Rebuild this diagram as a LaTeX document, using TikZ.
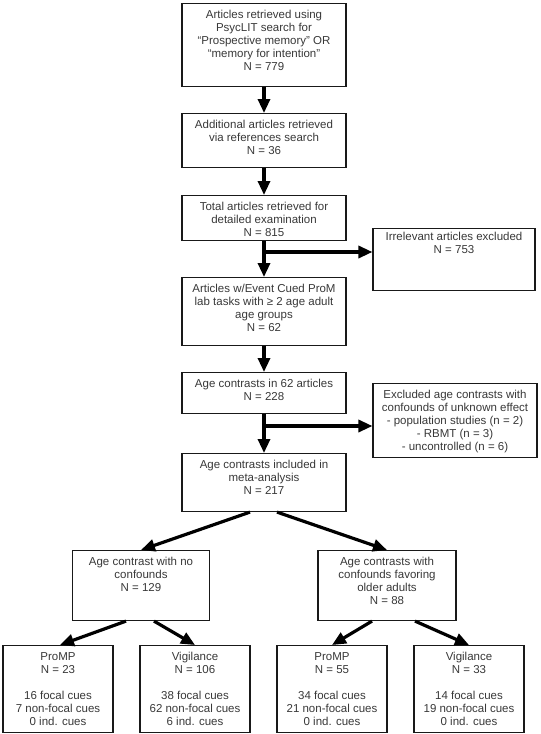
\documentclass[tikz,border=0pt]{standalone}
\usepackage{fontspec}
\setmainfont{Liberation Sans}
\usetikzlibrary{arrows.meta}
\begin{document}
\begin{tikzpicture}[x=1pt,y=-1pt,
    box/.style={draw=black!90, line width=1.1pt, align=center, anchor=north,
      inner xsep=2pt, inner ysep=0pt, text=black!78,
      font=\fontsize{11.5}{13}\selectfont},
    arr/.style={-{Triangle[length=14pt,width=12pt]}, line width=3.2pt}]
    \useasboundingbox (0,0) rectangle (541,734);
    \node[box, minimum width=164pt, text height=66.5pt, text depth=16.5pt] (A) at (264,3) {Articles retrieved using\\PsycLIT search for\\“Prospective memory” OR\\“memory for intention”\\N = 779};
    \node[box, minimum width=164pt, text height=40.5pt, text depth=13.5pt] (B) at (264,113) {Additional articles retrieved\\via references search\\N = 36};
    \node[box, minimum width=164pt, text height=40.5pt, text depth=4.5pt] (C) at (264,195) {Total articles retrieved for\\detailed examination\\N = 815};
    \node[box, minimum width=162pt, text height=24.5pt, text depth=37.5pt] (D) at (454,228) {Irrelevant articles excluded\\N = 753};
    \node[box, minimum width=164pt, text height=53.5pt, text depth=14.5pt] (E) at (264,277) {Articles w/Event Cued ProM\\lab tasks with ≥ 2 age adult\\age groups\\N = 62};
    \node[box, minimum width=164pt, text height=27.5pt, text depth=13.5pt] (F) at (264,372) {Age contrasts in 62 articles\\N = 228};
    \node[box, minimum width=164pt, text height=66.5pt, text depth=7.5pt] (G) at (455,383) {Excluded age contrasts with\\confounds of unknown effect\\- population studies (n = 2)\\- RBMT (n = 3)\\- uncontrolled (n = 6)};
    \node[box, minimum width=164pt, text height=40.5pt, text depth=17.5pt] (H) at (264,453) {Age contrasts included in\\meta-analysis\\N = 217};
    \node[box, minimum width=137pt, text height=40.5pt, text depth=29.5pt] (I) at (141,550) {Age contrast with no\\confounds\\N = 129};
    \node[box, minimum width=138pt, text height=53.5pt, text depth=16.5pt] (J) at (387,550) {Age contrasts with\\confounds favoring\\older adults\\N = 88};
    \node[box, minimum width=110pt, text height=79.5pt, text depth=7.5pt] (K) at (58,645) {ProMP\\N = 23\\[13pt]16 focal cues\\7 non-focal cues\\0 ind. cues};
    \node[box, minimum width=110pt, text height=79.5pt, text depth=7.5pt] (L) at (195,645) {Vigilance\\N = 106\\[13pt]38 focal cues\\62 non-focal cues\\6 ind. cues};
    \node[box, minimum width=110pt, text height=79.5pt, text depth=7.5pt] (M) at (332,645) {ProMP\\N = 55\\[13pt]34 focal cues\\21 non-focal cues\\0 ind. cues};
    \node[box, minimum width=110pt, text height=79.5pt, text depth=7.5pt] (N) at (469,645) {Vigilance\\N = 33\\[13pt]14 focal cues\\19 non-focal cues\\0 ind. cues};
    \coordinate (X) at (264,252);
    \coordinate (Y) at (264,426);
    \draw [arr] (A) -- (B);
    \draw [arr] (B) -- (C);
    \draw [arr] (C) -- (E);
    \draw [arr] (X) -- (X -| D.west);
    \draw [arr] (E) -- (F);
    \draw [arr] (F) -- (H);
    \draw [arr] (Y) -- (Y -| G.west);
    \draw [arr] ([xshift=-14pt]H.south) -- (I.north);
    \draw [arr] ([xshift=13pt]H.south) -- (J.north);
    \draw [arr] ([xshift=-15pt]I.south) -- ([xshift=2pt]K.north);
    \draw [arr] ([xshift=13pt]I.south) -- (L.north);
    \draw [arr] ([xshift=-15pt]J.south) -- (M.north);
    \draw [arr] ([xshift=28pt]J.south) -- (N.north);
\end{tikzpicture}
\end{document}
